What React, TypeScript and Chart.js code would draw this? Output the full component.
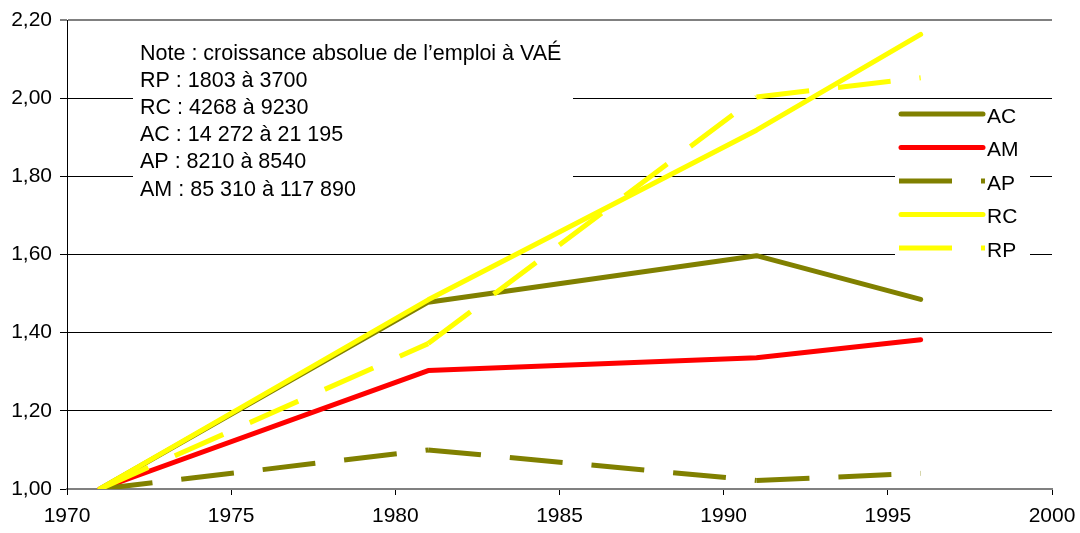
import React, { useEffect, useRef } from "react";
import { Chart, registerables } from "chart.js";

Chart.register(...registerables);

// ---- data ----
const years = [1971, 1981, 1991, 1996];
const seriesNames = ["AC", "AM", "AP", "RC", "RP"];
const acValues = [1.0, 1.478, 1.597, 1.485];
const amValues = [1.0, 1.303, 1.336, 1.382];
const apValues = [1.0, 1.1, 1.022, 1.04];
const rcValues = [1.0, 1.484, 1.918, 2.163];
const rpValues = [1.0, 1.372, 2.003, 2.052];
const noteLines = [
  "Note : croissance absolue de l’emploi à VAÉ",
  "RP : 1803 à 3700",
  "RC : 4268 à 9230",
  "AC : 14 272 à 21 195",
  "AP : 8210 à 8540",
  "AM : 85 310 à 117 890",
];
const xMin = 1970;
const xMax = 2000;
const xStep = 5;
const yMin = 1.0;
const yMax = 2.2;
const yStep = 0.2;

const FONT = "'Liberation Sans', Arial, Helvetica, sans-serif";
const OLIVE = "#808000";
const RED = "#FF0000";
const YELLOW = "#FFFF00";
const DASH = [53, 29];

const seriesValues = [acValues, amValues, apValues, rcValues, rpValues];
const seriesColors = [OLIVE, RED, OLIVE, YELLOW, YELLOW];
const seriesDashed = [false, false, true, false, true];
const seriesOrder = [4, 3, 2, 1, 0];

const overlayPlugin = {
  id: "overlay",
  beforeDatasetsDraw(chart: any) {
    const ctx = chart.ctx as CanvasRenderingContext2D;
    ctx.save();
    // note box
    ctx.fillStyle = "#FFFFFF";
    ctx.fillRect(133, 32, 440, 174);
    ctx.fillStyle = "#000000";
    ctx.font = `21.5px ${FONT}`;
    ctx.textAlign = "left";
    ctx.textBaseline = "alphabetic";
    noteLines.forEach((t, i) => {
      ctx.fillText(t, 140, 59.5 + i * 27.2);
    });
    // legend box
    ctx.fillStyle = "#FFFFFF";
    ctx.fillRect(895, 100, 135, 170);
    chart.data.datasets.forEach((ds: any, i: number) => {
      const y = 114 + i * 33.5;
      const dashed = ds.borderDash && ds.borderDash.length;
      ctx.beginPath();
      ctx.strokeStyle = ds.borderColor;
      ctx.lineWidth = 5;
      if (dashed) {
        ctx.setLineDash(ds.borderDash);
        ctx.lineCap = "butt";
      } else {
        ctx.setLineDash([]);
        ctx.lineCap = "round";
      }
      ctx.moveTo(dashed ? 899 : 901, y);
      ctx.lineTo(dashed ? 985 : 983, y);
      ctx.stroke();
      ctx.setLineDash([]);
      ctx.fillStyle = "#000000";
      ctx.font = `21px ${FONT}`;
      ctx.textBaseline = "middle";
      ctx.fillText(ds.label, 987, y + 3);
    });
    ctx.restore();
  },
};

export default function App() {
  const canvasRef = useRef<HTMLCanvasElement | null>(null);

  useEffect(() => {
    if (!canvasRef.current) return;
    const datasets = seriesNames.map((name, i) => ({
      label: name,
      data: years.map((yr, j) => ({ x: yr, y: seriesValues[i][j] })),
      borderColor: seriesColors[i],
      backgroundColor: seriesColors[i],
      borderWidth: 5,
      borderDash: seriesDashed[i] ? DASH : [],
      borderCapStyle: seriesDashed[i] ? "butt" : "round",
      borderJoinStyle: "round",
      pointRadius: 0,
      pointHoverRadius: 0,
      tension: 0,
      fill: false,
      order: seriesOrder[i],
      segment: seriesDashed[i]
        ? { borderDashOffset: (c: any) => c.p0DataIndex * (DASH[0] + DASH[1]) }
        : undefined,
    }));

    const chart = new Chart(canvasRef.current, {
      type: "line",
      data: { datasets } as any,
      options: {
        responsive: false,
        animation: false,
        devicePixelRatio: 1,
        layout: { padding: { top: 20, right: 28, left: 0, bottom: 0 } },
        plugins: {
          legend: { display: false },
          tooltip: { enabled: false },
          title: { display: false },
        },
        scales: {
          x: {
            type: "linear",
            min: xMin,
            max: xMax,
            afterFit: (s: any) => {
              s.height = 44;
              s.paddingLeft = 0;
              s.paddingRight = 0;
            },
            ticks: {
              stepSize: xStep,
              color: "#000",
              font: { family: FONT, size: 21 },
              padding: 9,
              maxRotation: 0,
              callback: (v: any) => String(v),
            },
            grid: {
              drawOnChartArea: false,
              drawTicks: true,
              tickLength: 6,
              tickColor: "#000",
              tickWidth: 1,
            },
            border: { color: "#808080", width: 2 },
          },
          y: {
            type: "linear",
            min: yMin,
            max: yMax,
            afterFit: (s: any) => {
              s.width = 67;
              s.paddingTop = 0;
              s.paddingBottom = 0;
            },
            ticks: {
              stepSize: yStep,
              color: "#000",
              font: { family: FONT, size: 21 },
              padding: 8,
              callback: (v: any) => Number(v).toFixed(2).replace(".", ","),
            },
            grid: {
              color: (c: any) => {
                const v = c.tick ? c.tick.value : 0;
                return Math.abs(v - yMin) < 1e-6 || Math.abs(v - yMax) < 1e-6 ? "#808080" : "#000000";
              },
              lineWidth: (c: any) => {
                const v = c.tick ? c.tick.value : 0;
                return Math.abs(v - yMax) < 1e-6 ? 2 : 1;
              },
              tickLength: 7,
              tickColor: "#000",
              tickWidth: 1,
            },
            border: { color: "#000", width: 1 },
          },
        },
      } as any,
      plugins: [overlayPlugin],
    });
    return () => chart.destroy();
  }, []);

  return (
    <canvas
      ref={canvasRef}
      width={1080}
      height={533}
      style={{ position: "absolute", left: 0, top: 0, width: 1080, height: 533, display: "block" }}
    />
  );
}
